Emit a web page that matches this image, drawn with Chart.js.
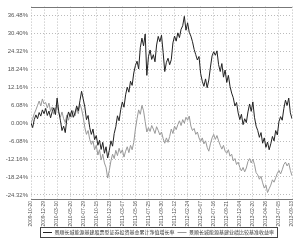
<!DOCTYPE html>
<html>
<head>
<meta charset="utf-8">
<script src="https://cdn.jsdelivr.net/npm/chart.js@4.4.0/dist/chart.umd.min.js"></script>
<style>
html, body { margin: 0; padding: 0; background: #fff; }
</style>
</head>
<body>
<canvas id="navChart" width="300" height="242"></canvas>
<script>
// x tick labels (every 8th point)
const dateLabels = [
    "2009-10-20", "2009-12-29", "2010-03-10", "2010-05-20", "2010-07-29",
    "2010-10-15", "2010-12-23", "2011-03-07", "2011-05-16", "2011-07-25",
    "2011-09-30", "2011-12-12", "2012-02-24", "2012-05-07", "2012-07-16",
    "2012-09-21", "2012-12-04", "2013-02-20", "2013-04-26", "2013-07-05",
    "2013-09-13"
]

const yTickValues = [-24.32, -18.24, -12.16, -6.08, 0, 6.08, 12.16, 18.24, 24.32, 30.40, 36.48]

const seriesNames = [
    "景顺长城能源基建股票型证券投资基金累计净值增长率",
    "景顺长城能源基建业绩比较基准收益率"
]

// fund cumulative return, %
const fundValues = [
    0.0, -1.5, 1.2, 2.8, 1.5, 3.6, 2.4, 4.5, 3.2, 5.0,
    2.6, 4.1, 1.8, 3.9, 5.2, 2.9, 8.5, 4.0, 1.0, -2.5,
    -1.0, -3.2, 1.5, 3.8, 2.2, 4.3, 2.0, 3.5, 5.8, 4.2,
    7.6, 10.8, 8.2, 5.5, 1.2, 2.6, -1.5, -3.8, -2.0, -5.6,
    -4.2, -7.5, -5.8, -8.9, -6.5, -10.2, -8.0, -11.8, -9.2, -6.0,
    -7.8, -3.5, -1.2, 2.5, 0.8, 4.6, 7.2, 5.4, 9.6, 12.2,
    10.5, 14.2, 12.8, 17.0, 19.5, 21.0, 18.4, 25.6, 28.8, 26.2,
    30.2, 16.2, 22.5, 24.8, 21.6, 23.2, 20.8, 26.5, 29.4, 27.6,
    29.8, 24.0, 17.5, 20.6, 22.0, 19.8, 21.5, 27.2, 29.5, 27.8,
    30.6, 29.0, 31.8, 33.0, 36.2, 31.5, 34.0, 30.8, 29.5, 27.6,
    25.0, 23.2, 21.4, 22.6, 16.8, 14.2, 12.5, 15.0, 12.0, 14.6,
    19.0, 22.8, 24.2, 23.0, 24.5, 19.8, 17.5, 20.2, 15.6, 18.0,
    13.8, 16.2, 12.5, 10.2, 8.6, 5.8, 7.0, 3.5, 1.2, 3.0,
    -0.5, 1.5, 0.2, 3.8, 6.5, 4.0, 7.2, 2.0, -1.0, -2.5,
    -4.8, -3.2, -6.8, -5.0, -8.2, -6.4, -9.0, -7.0, -4.5, -6.0,
    -2.5, -4.0, 0.5, 2.2, 1.0, 5.0, 7.8, 6.0, 8.5, 3.5,
    1.5
]

// benchmark return, %
const benchValues = [
    0.0, 1.5, 3.2, 4.5, 6.0, 7.5, 5.8, 8.2, 6.5, 7.0,
    5.2, 6.8, 4.0, 5.5, 3.0, 4.8, 6.2, 3.5, 2.0, 3.8,
    1.5, 0.2, 2.8, 1.0, 3.5, 2.0, 4.2, 2.5, 5.0, 3.2,
    6.5, 4.8, 2.0, -1.5, -3.8, -2.5, -5.5, -7.2, -6.0, -9.0,
    -7.5, -10.8, -9.0, -12.5, -10.5, -13.5, -15.0, -18.6, -16.0, -12.8,
    -10.5, -12.0, -9.2, -11.0, -8.5, -10.2, -9.0, -11.5, -9.5, -8.0,
    -10.0, -7.5, -9.0, -6.5, -2.0, 1.5, 4.5, 3.0, 6.0, 4.2,
    0.5, -3.0, -1.5, -2.8, -0.8, -2.0, -3.5, -1.2, -2.5, -4.0,
    -3.0, -5.2, -6.8, -5.0, -6.5, -4.5, -2.0, -3.5, -1.0, -2.2,
    -0.5, 0.8, -0.8, 1.2, 0.0, 2.0, 1.0, 2.4, -1.0, -2.5,
    -1.8, -3.8, -3.0, -5.0, -6.2, -5.0, -7.0, -6.0, -8.2, -9.5,
    -7.0, -5.0, -3.8, -5.5, -4.2, -6.0, -7.5, -8.8, -7.5, -9.5,
    -10.2, -9.0, -11.2, -10.5, -12.8, -12.0, -14.0, -13.2, -15.0, -16.2,
    -15.0, -16.5, -15.2, -13.0, -12.0, -13.5, -12.2, -14.0, -16.8, -17.5,
    -19.0, -18.0, -20.2, -22.0, -21.0, -23.5, -22.2, -21.0, -19.2, -20.0,
    -18.5, -17.0, -16.0, -17.2, -15.8, -14.0, -13.2, -14.5, -13.5, -16.0,
    -17.8
]

const labelStep = 8

// draws the solid top rule and the frame round the legend
const framePlugin = {
    id: "framePlugin",
    afterLayout(chart) {
        // legend in the original sits a little right of centre
        chart.legend.left += 12
        chart.legend.right += 12
    },
    afterDraw(chart) {
        const ctx = chart.ctx
        const area = chart.chartArea
        ctx.save()
        ctx.strokeStyle = "#777"
        ctx.lineWidth = 1
        ctx.beginPath()
        ctx.moveTo(area.left, Math.round(area.top) + 0.5)
        ctx.lineTo(area.right, Math.round(area.top) + 0.5)
        ctx.stroke()

        const boxes = chart.legend.legendHitBoxes
        if (boxes && boxes.length) {
            const first = boxes[0]
            const last = boxes[boxes.length - 1]
            const left = Math.round(first.left) - 2.5
            const top = Math.round(first.top) - 2.5
            const right = Math.round(last.left + last.width) + 3.5
            const bottom = Math.round(first.top + first.height) + 2.5
            ctx.strokeStyle = "#444"
            ctx.strokeRect(left, top, right - left, bottom - top)
        }
        ctx.restore()
    }
}

function buildChart() {
    const ctx = document.getElementById("navChart").getContext("2d")

    new Chart(ctx, {
        type: "line",
        data: {
            datasets: [
                {
                    label: seriesNames[0],
                    data: fundValues.map((v, i) => ({ x: i, y: v })),
                    borderColor: "#222",
                    backgroundColor: "#222",
                    borderWidth: 1,
                    pointRadius: 0,
                    tension: 0
                },
                {
                    label: seriesNames[1],
                    data: benchValues.map((v, i) => ({ x: i, y: v })),
                    borderColor: "#999",
                    backgroundColor: "#999",
                    borderWidth: 1,
                    pointRadius: 0,
                    tension: 0
                }
            ]
        },
        options: {
            responsive: false,
            animation: false,
            layout: { padding: { top: 5, right: 7, bottom: -3, left: 0 } },
            plugins: {
                tooltip: { enabled: false },
                legend: {
                    position: "bottom",
                    labels: {
                        usePointStyle: true,
                        pointStyleWidth: 9,
                        pointStyle: "line",
                        boxHeight: 5,
                        padding: 3,
                        color: "#333",
                        font: { family: "'Noto Sans CJK SC'", size: 5 }
                    }
                }
            },
            scales: {
                x: {
                    type: "linear",
                    min: 0,
                    max: fundValues.length - 1,
                    afterBuildTicks: scale => {
                        scale.ticks = dateLabels.map((d, i) => ({ value: i * labelStep }))
                    },
                    afterFit: scale => { scale.height = 28 },
                    ticks: {
                        minRotation: 90,
                        maxRotation: 90,
                        padding: 2,
                        color: "#555",
                        font: { family: "'Liberation Sans'", size: 5 },
                        callback: value => dateLabels[Math.round(value / labelStep)]
                    },
                    grid: {
                        color: "#bbb",
                        lineWidth: 1,
                        drawTicks: false
                    },
                    border: { display: true, color: "#777", dash: [1, 2] }
                },
                y: {
                    min: -25.7,
                    max: 39.5,
                    afterBuildTicks: scale => {
                        scale.ticks = yTickValues.map(v => ({ value: v }))
                    },
                    afterFit: scale => { scale.width = 31 },
                    ticks: {
                        padding: 3,
                        color: "#555",
                        font: { family: "'Liberation Sans'", size: 6 },
                        callback: value => value.toFixed(2) + "%"
                    },
                    grid: {
                        color: "#bbb",
                        lineWidth: 1,
                        drawTicks: false
                    },
                    border: { display: false, dash: [1, 2] }
                }
            }
        },
        plugins: [framePlugin]
    })
}

document.addEventListener("DOMContentLoaded", function () {
    buildChart()
})
</script>
</body>
</html>
